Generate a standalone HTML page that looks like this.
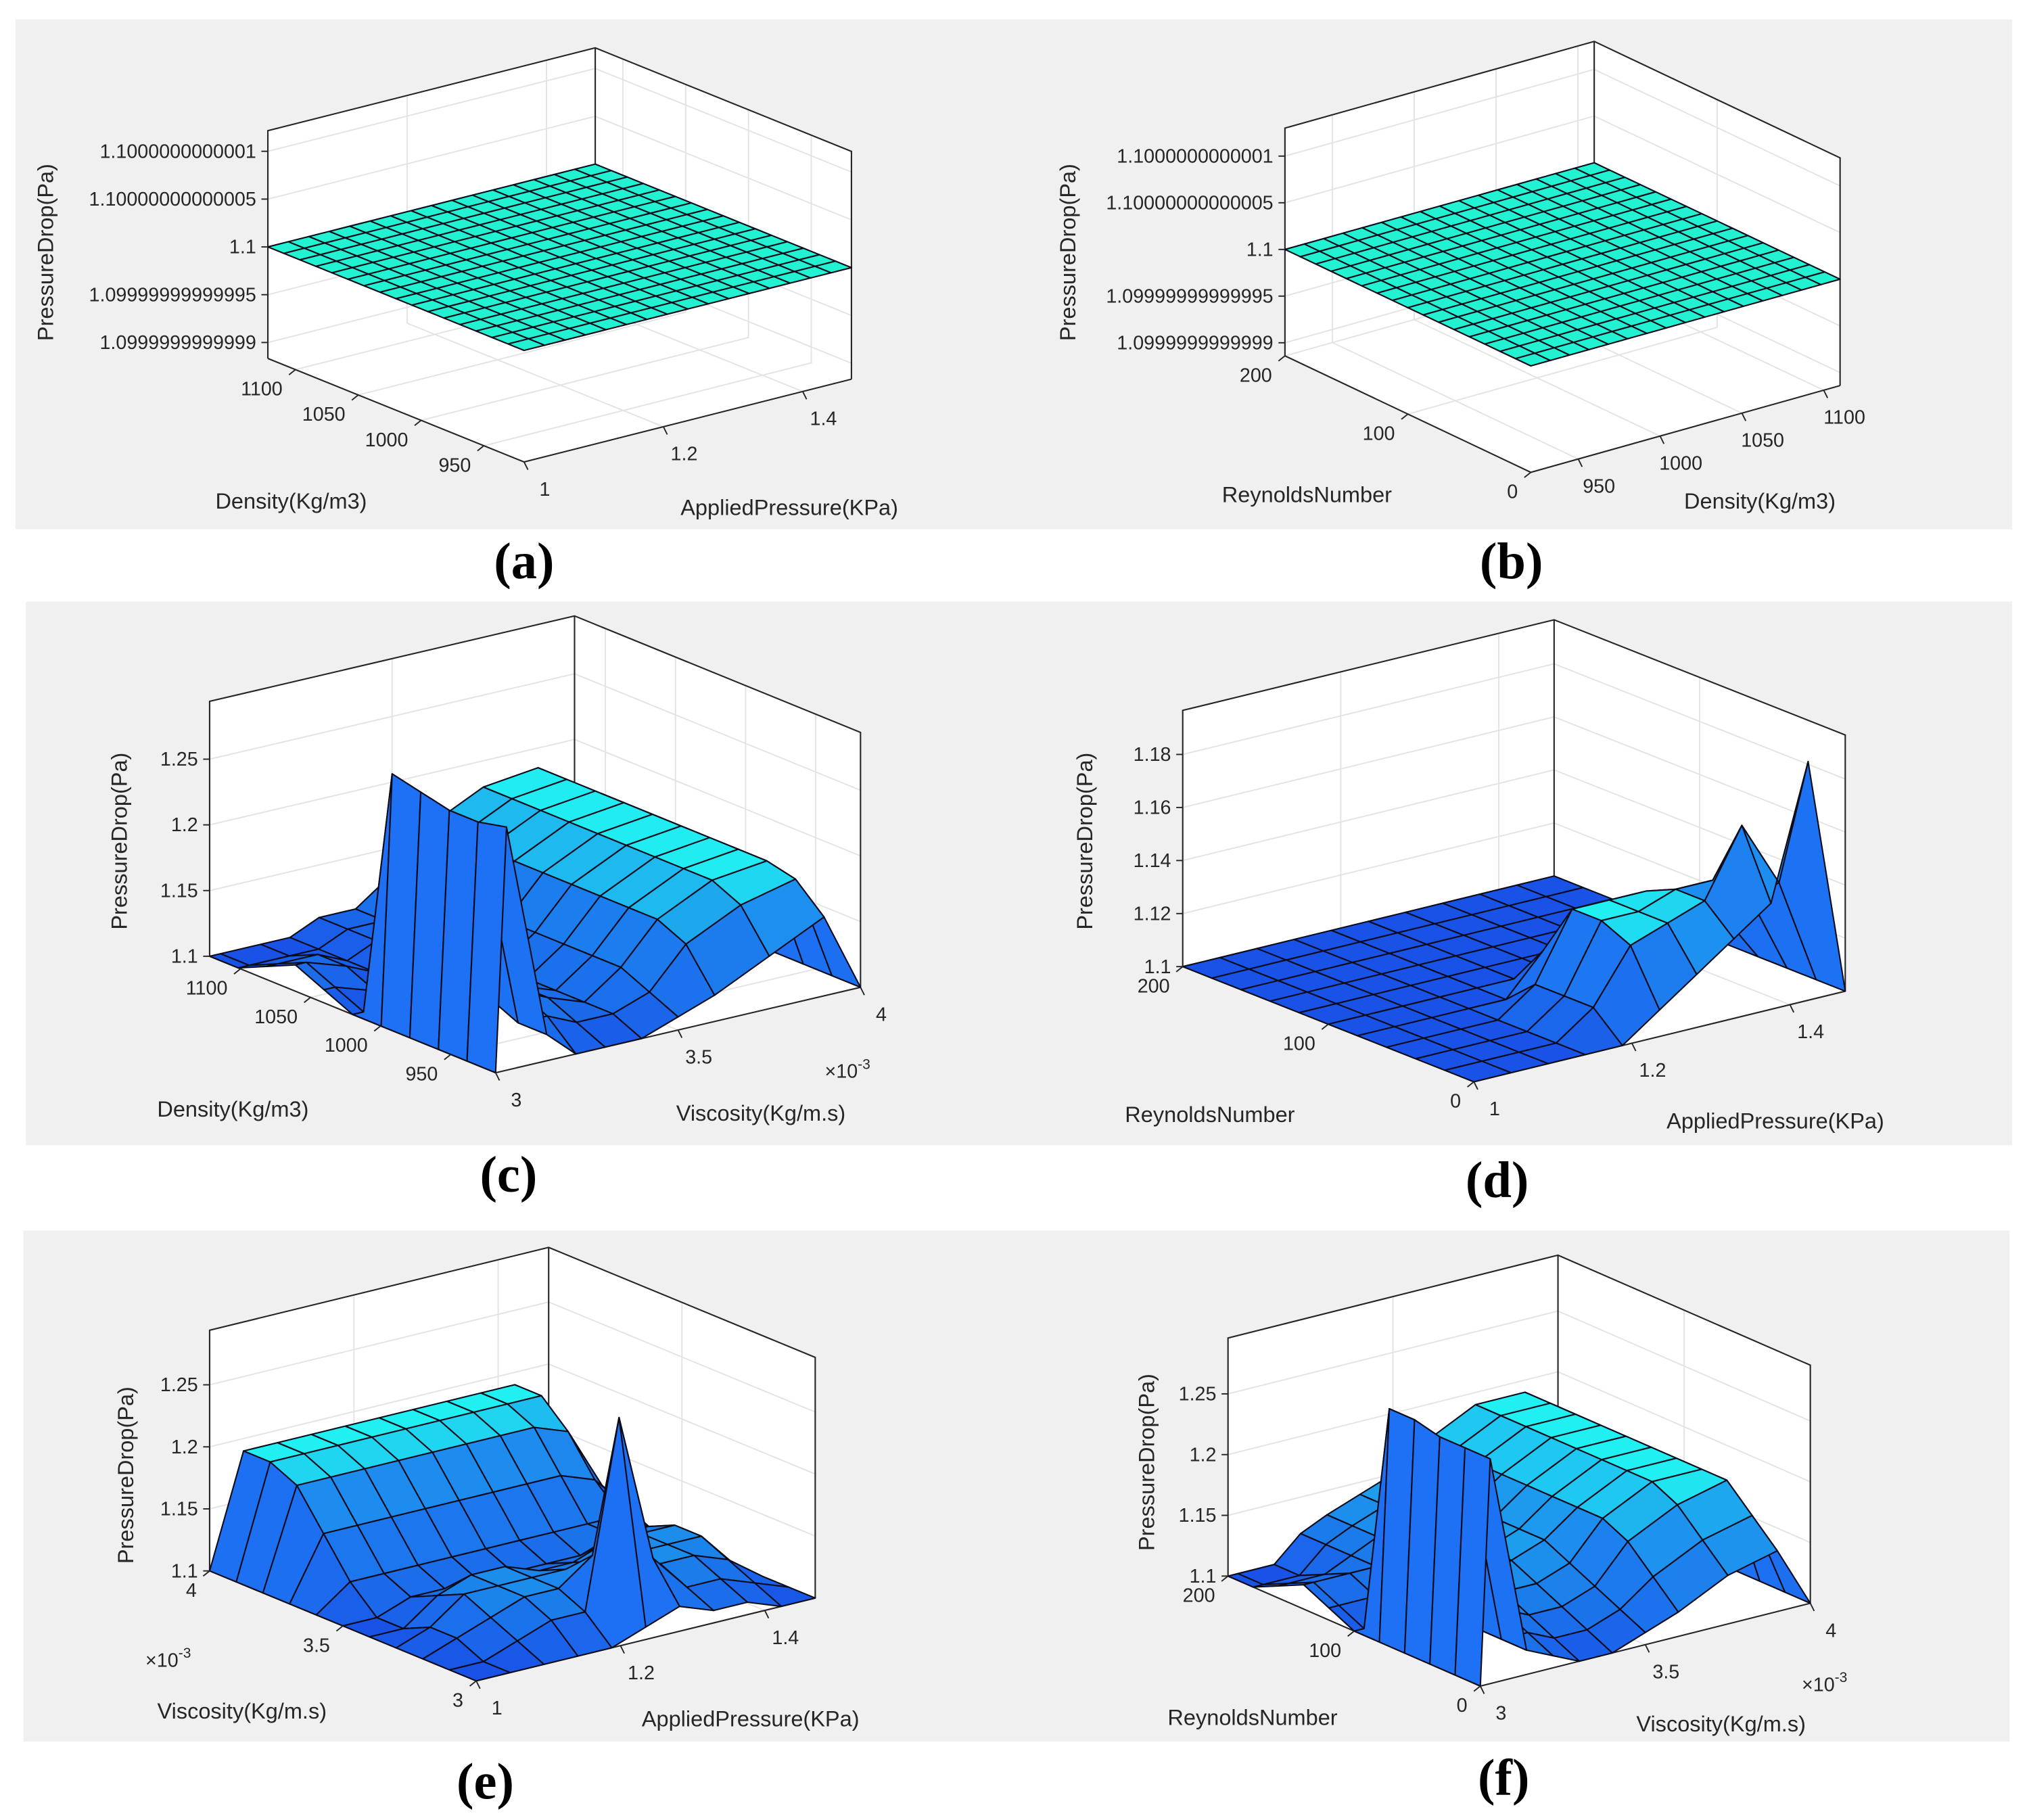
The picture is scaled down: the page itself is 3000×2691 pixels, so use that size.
<!DOCTYPE html>
<html><head><meta charset="utf-8"><title>Pressure drop surfaces</title>
<style>
html,body{margin:0;padding:0;background:#fff;}
svg{display:block;}
text{font-family:"Liberation Sans",Arial,sans-serif;fill:#262626;}
.tick{font-size:15px;}
.ttl{font-size:17px;}
.plab{font-family:"Liberation Serif",serif;font-weight:bold;font-size:40px;fill:#000;}
</style></head>
<body>
<svg id="chart" xmlns="http://www.w3.org/2000/svg" width="3000" height="2691" viewBox="0 0 1568 1406.5" preserveAspectRatio="none">
<rect x="0" y="0" width="1568" height="1406.5" fill="#ffffff"/>
<rect x="12" y="15" width="1543" height="394" fill="#f0f0f0"/>
<rect x="20" y="465" width="1535" height="420" fill="#f0f0f0"/>
<rect x="18" y="951" width="1535" height="395" fill="#f0f0f0"/>
<text class="plab" x="405" y="447" text-anchor="middle">(a)</text>
<text class="plab" x="1168" y="447" text-anchor="middle">(b)</text>
<text class="plab" x="393" y="921" text-anchor="middle">(c)</text>
<text class="plab" x="1157" y="925" text-anchor="middle">(d)</text>
<text class="plab" x="375" y="1390" text-anchor="middle">(e)</text>
<text class="plab" x="1162" y="1387" text-anchor="middle">(f)</text>
</svg>
<script>
// ---------- data (rows: right-axis variable samples, columns: left-axis variable samples) ----------
const flatRow = [1.1,1.1,1.1,1.1,1.1,1.1,1.1,1.1,1.1,1.1,1.1,1.1,1.1,1.1,1.1,1.1,1.1];
const zA = [flatRow,flatRow,flatRow,flatRow,flatRow,flatRow,flatRow,flatRow,flatRow,flatRow,flatRow,flatRow,flatRow,flatRow,flatRow,flatRow,flatRow];
const zB = [flatRow,flatRow,flatRow,flatRow,flatRow,flatRow,flatRow,flatRow,flatRow,flatRow,flatRow,flatRow,flatRow,flatRow,flatRow,flatRow,flatRow];
// viscosity sample values (x1e-3) used by panels c and f
const viscSamples = [3.0, 3.03, 3.14, 3.22, 3.3, 3.4, 3.5, 3.6, 3.75, 3.9, 4.0];
const zC = [
 [1.10,1.10,1.10,1.10,1.10,1.10,1.11,1.12,1.11,1.10,1.10],
 [1.285,1.28,1.28,1.285,1.29,1.10,1.11,1.12,1.11,1.10,1.10],
 [1.12,1.12,1.13,1.12,1.11,1.10,1.10,1.11,1.11,1.10,1.10],
 [1.10,1.12,1.13,1.12,1.11,1.10,1.10,1.10,1.10,1.10,1.10],
 [1.10,1.11,1.12,1.12,1.11,1.11,1.11,1.11,1.11,1.11,1.11],
 [1.10,1.11,1.11,1.11,1.11,1.11,1.11,1.11,1.11,1.11,1.11],
 [1.11,1.12,1.13,1.13,1.13,1.13,1.13,1.13,1.13,1.13,1.13],
 [1.12,1.15,1.16,1.16,1.16,1.16,1.16,1.16,1.16,1.16,1.16],
 [1.14,1.17,1.18,1.18,1.18,1.18,1.18,1.18,1.18,1.18,1.18],
 [1.16,1.18,1.185,1.185,1.185,1.185,1.185,1.185,1.185,1.185,1.185],
 [1.10,1.10,1.10,1.10,1.10,1.10,1.10,1.10,1.10,1.10,1.10]
];
const zD = [
 [1.10,1.10,1.10,1.10,1.10,1.10,1.10,1.10,1.10,1.10,1.10],
 [1.10,1.10,1.10,1.10,1.10,1.10,1.10,1.10,1.10,1.10,1.10],
 [1.10,1.10,1.10,1.10,1.10,1.10,1.10,1.10,1.10,1.10,1.10],
 [1.10,1.10,1.10,1.10,1.10,1.10,1.10,1.10,1.10,1.10,1.10],
 [1.10,1.11,1.11,1.11,1.10,1.10,1.10,1.10,1.10,1.10,1.10],
 [1.11,1.13,1.135,1.135,1.115,1.10,1.10,1.10,1.10,1.10,1.10],
 [1.12,1.135,1.135,1.135,1.12,1.10,1.10,1.10,1.10,1.10,1.10],
 [1.13,1.14,1.14,1.135,1.12,1.10,1.10,1.10,1.10,1.10,1.10],
 [1.14,1.165,1.14,1.13,1.12,1.10,1.10,1.10,1.10,1.10,1.10],
 [1.19,1.14,1.13,1.12,1.11,1.10,1.10,1.10,1.10,1.10,1.10],
 [1.10,1.10,1.10,1.10,1.10,1.10,1.10,1.10,1.10,1.10,1.10]
];
const zE = [
 [1.10,1.10,1.10,1.10,1.10,1.10,1.10,1.10,1.10,1.10,1.10],
 [1.10,1.10,1.11,1.11,1.10,1.10,1.12,1.15,1.18,1.19,1.19],
 [1.10,1.11,1.12,1.13,1.12,1.11,1.12,1.15,1.18,1.19,1.19],
 [1.10,1.12,1.13,1.13,1.13,1.11,1.12,1.15,1.18,1.19,1.19],
 [1.10,1.12,1.13,1.13,1.13,1.11,1.12,1.15,1.18,1.19,1.19],
 [1.11,1.27,1.15,1.13,1.12,1.11,1.12,1.15,1.18,1.19,1.19],
 [1.12,1.15,1.14,1.13,1.12,1.11,1.12,1.15,1.18,1.19,1.19],
 [1.11,1.12,1.13,1.13,1.13,1.11,1.12,1.15,1.18,1.19,1.19],
 [1.11,1.12,1.13,1.13,1.13,1.12,1.12,1.15,1.18,1.19,1.19],
 [1.10,1.11,1.12,1.13,1.13,1.12,1.12,1.14,1.17,1.19,1.19],
 [1.10,1.10,1.10,1.10,1.10,1.10,1.10,1.11,1.12,1.13,1.13]
];
const zF = [
 [1.10,1.10,1.10,1.10,1.10,1.10,1.11,1.12,1.11,1.10,1.10],
 [1.285,1.285,1.285,1.29,1.29,1.10,1.11,1.12,1.11,1.10,1.10],
 [1.12,1.12,1.12,1.12,1.12,1.11,1.11,1.12,1.11,1.10,1.10],
 [1.11,1.12,1.13,1.13,1.12,1.12,1.12,1.12,1.12,1.12,1.12],
 [1.10,1.11,1.12,1.13,1.13,1.13,1.13,1.13,1.13,1.13,1.13],
 [1.10,1.11,1.12,1.13,1.14,1.14,1.14,1.14,1.14,1.14,1.14],
 [1.11,1.12,1.13,1.14,1.15,1.15,1.15,1.15,1.15,1.15,1.15],
 [1.12,1.14,1.16,1.17,1.17,1.17,1.17,1.17,1.17,1.17,1.17],
 [1.14,1.16,1.18,1.19,1.19,1.19,1.19,1.19,1.19,1.19,1.19],
 [1.15,1.17,1.19,1.19,1.19,1.19,1.19,1.19,1.19,1.19,1.19],
 [1.10,1.10,1.10,1.10,1.10,1.10,1.10,1.10,1.10,1.10,1.10]
];
// tick values / labels
const pressureTicks = [1, 1.2, 1.4];
const pressureLabels = ["1", "1.2", "1.4"];
const densityTicks = [950, 1000, 1050, 1100];
const densityLabels = ["950", "1000", "1050", "1100"];
const viscTicks = [3, 3.5, 4];
const viscLabels = ["3", "3.5", "4"];
const reTicks = [0, 100, 200];
const reLabels = ["0", "100", "200"];
const tinyZTicks = [1.1-1e-13, 1.1-5e-14, 1.1, 1.1+5e-14, 1.1+1e-13];
const tinyZLabels = ["1.0999999999999", "1.09999999999995", "1.1", "1.10000000000005", "1.1000000000001"];
const zTicksCEF = [1.1, 1.15, 1.2, 1.25];
const zLabelsCEF = ["1.1", "1.15", "1.2", "1.25"];
const zTicksD = [1.1, 1.12, 1.14, 1.16, 1.18];
const zLabelsD = ["1.1", "1.12", "1.14", "1.16", "1.18"];

const panels = [
 {id:'a', F:[405,357], L:[207,277], R:[658,293], H:176, z:zA, zr:[1.1-1.166e-13, 1.1+1.214e-13], flat:true,
  u:{r:[1,1.47], t:pressureTicks, l:pressureLabels}, v:{r:[918,1122], t:densityTicks, l:densityLabels},
  zt:tinyZTicks, zl:tinyZLabels, ut:['AppliedPressure(KPa)',610,392], vt:['Density(Kg/m3)',225,387], yl:[35,195]},
 {id:'b', F:[1183,365], L:[993,275], R:[1422,298], H:176, z:zB, zr:[1.1-1.14e-13, 1.1+1.30e-13], flat:true,
  u:{r:[921,1110], t:densityTicks, l:densityLabels}, v:{r:[0,200], t:reTicks, l:reLabels},
  zt:tinyZTicks, zl:tinyZLabels, ut:['Density(Kg/m3)',1360,387], vt:['ReynoldsNumber',1010,382], yl:[825,195]},
 {id:'c', F:[383,829], L:[162,739], R:[665,763], H:197, z:zC, zr:[1.1,1.294], sc:0.08, ug:viscSamples,
  u:{r:[3,4], t:viscTicks, l:viscLabels}, v:{r:[918,1122], t:densityTicks, l:densityLabels},
  zt:zTicksCEF, zl:zLabelsCEF, ut:['Viscosity(Kg/m.s)',588,860], vt:['Density(Kg/m3)',180,857], yl:[92,650], ex:[655,828]},
 {id:'d', F:[1139,836], L:[914,747], R:[1426,766], H:198, z:zD, zr:[1.1,1.1966], sc:0.035,
  u:{r:[1,1.47], t:pressureTicks, l:pressureLabels}, v:{r:[0,200], t:reTicks, l:reLabels},
  zt:zTicksD, zl:zLabelsD, ut:['AppliedPressure(KPa)',1372,866], vt:['ReynoldsNumber',935,861], yl:[838,650]},
 {id:'e', F:[368,1299], L:[162,1214], R:[630,1235], H:186, z:zE, zr:[1.1,1.294], sc:0.08,
  u:{r:[1,1.47], t:pressureTicks, l:pressureLabels}, v:{r:[3,4], t:viscTicks, l:viscLabels},
  zt:zTicksCEF, zl:zLabelsCEF, ut:['AppliedPressure(KPa)',580,1328], vt:['Viscosity(Kg/m.s)',187,1322], yl:[97,1140], ex:[130,1283]},
 {id:'f', F:[1144,1303], L:[949,1218], R:[1399,1239], H:184, z:zF, zr:[1.1,1.296], sc:0.08, ug:viscSamples,
  u:{r:[3,4], t:viscTicks, l:viscLabels}, v:{r:[0,200], t:reTicks, l:reLabels},
  zt:zTicksCEF, zl:zLabelsCEF, ut:['Viscosity(Kg/m.s)',1330,1332], vt:['ReynoldsNumber',968,1327], yl:[886,1130], ex:[1410,1302]}
];

const NS = 'http://www.w3.org/2000/svg';
const svg = document.getElementById('chart');
function mk(tag, attrs, parent) {
  const e = document.createElementNS(NS, tag);
  for (const k in attrs) e.setAttribute(k, attrs[k]);
  parent.appendChild(e);
  return e;
}
function pts(a) { return a.map(p => p[0].toFixed(2) + ',' + p[1].toFixed(2)).join(' '); }

panels.forEach(P => {
  const g = mk('g', {}, svg);
  
  
  const F = P.F, L = P.L, R = P.R, H = P.H;
  const proj = (u, v, w) => [F[0] + u*(R[0]-F[0]) + v*(L[0]-F[0]), F[1] + u*(R[1]-F[1]) + v*(L[1]-F[1]) - w*H];
  const uS = x => (x - P.u.r[0]) / (P.u.r[1] - P.u.r[0]);
  const vS = x => (x - P.v.r[0]) / (P.v.r[1] - P.v.r[0]);
  const wS = x => (x - P.zr[0]) / (P.zr[1] - P.zr[0]);

  const floor = mk('polygon', {points: pts([proj(0,0,0), proj(1,0,0), proj(1,1,0), proj(0,1,0)]), fill:'#fff'}, g);
  
  
  const wl = mk('polygon', {points: pts([proj(0,1,0), proj(1,1,0), proj(1,1,1), proj(0,1,1)]), fill:'#fff'}, g);
  
  
  const wr = mk('polygon', {points: pts([proj(1,0,0), proj(1,1,0), proj(1,1,1), proj(1,0,1)]), fill:'#fff'}, g);
  
  

  const gridG = mk('g', {stroke:'#e3e3e3', 'stroke-width':1, fill:'none'}, g);
  
  
  P.u.t.forEach(t => { const u = uS(t);
    mk('polyline', {points: pts([proj(u,0,0), proj(u,1,0), proj(u,1,1)])}, gridG); });
  P.v.t.forEach(t => { const v = vS(t);
    mk('polyline', {points: pts([proj(0,v,0), proj(1,v,0), proj(1,v,1)])}, gridG); });
  P.zt.forEach(t => { const w = wS(t);
    mk('polyline', {points: pts([proj(0,1,w), proj(1,1,w), proj(1,0,w)])}, gridG); });

  const boxG = mk('g', {stroke:'#262626', 'stroke-width':1.1, fill:'none'}, g);
  
  
  mk('polyline', {points: pts([proj(0,1,0), proj(0,1,1), proj(1,1,1), proj(1,0,1), proj(1,0,0)])}, boxG);
  mk('line', {x1:proj(1,1,0)[0], y1:proj(1,1,0)[1], x2:proj(1,1,1)[0], y2:proj(1,1,1)[1]}, boxG);
  mk('polyline', {points: pts([proj(0,1,0), proj(0,0,0), proj(1,0,0)])}, boxG);

  const Z = P.z, nu = Z.length, nv = Z[0].length;
  const uAt = i => P.ug ? uS(P.ug[i]) : i/(nu-1);
  const vAt = j => j/(nv-1);
  const cells = [];
  for (let i = 0; i < nu-1; i++) for (let j = 0; j < nv-1; j++) cells.push([i, j]);
  cells.sort((a, b) => (uAt(b[0])+vAt(b[1])) - (uAt(a[0])+vAt(a[1])));
  const surfG = mk('g', {stroke:'#0b0b1a', 'stroke-width':1.1, 'stroke-linejoin':'round'}, g);
  
  
  cells.forEach(([i, j]) => {
    const u0 = uAt(i), u1 = uAt(i+1), v0 = vAt(j), v1 = vAt(j+1);
    const z00 = Z[i][j], z10 = Z[i+1][j], z11 = Z[i+1][j+1], z01 = Z[i][j+1];
    const q = [proj(u0,v0,wS(z00)), proj(u1,v0,wS(z10)), proj(u1,v1,wS(z11)), proj(u0,v1,wS(z01))];
    let col;
    if (P.flat) col = '#22f2d2';
    else {
      const du = u1-u0, dv = v1-v0;
      const a = [du, dv, wS(z11)-wS(z00)], b = [-du, dv, wS(z01)-wS(z10)];
      const n = [a[1]*b[2]-a[2]*b[1], a[2]*b[0]-a[0]*b[2], a[0]*b[1]-a[1]*b[0]];
      const up = Math.abs(n[2]) / Math.hypot(n[0], n[1], n[2]);
      const zav = (z00+z10+z11+z01)/4;
      const h = Math.min(1, Math.max(0, (zav - 1.1) / P.sc));
      const s = Math.min(1, h * Math.pow(up, 1.6));
      const steep = 1 - up;
      const base = [25 + 5*steep, 82 + 30*steep, 230 + 15*steep];
      const cy = [32, 240, 242];
      col = 'rgb(' + base.map((c, k) => Math.round(c + (cy[k]-c)*s)).join(',') + ')';
    }
    const poly = mk('polygon', {points: pts(q), fill: col}, surfG);
    
    
  });

  const tickG = mk('g', {}, g);
  
  
  P.u.t.forEach((t, k) => {
    const p = proj(uS(t), 0, 0);
    mk('line', {x1:p[0], y1:p[1], x2:p[0]+3, y2:p[1]+6, stroke:'#262626', 'stroke-width':1}, tickG);
    const tx = mk('text', {x:p[0]+16, y:p[1]+26, 'text-anchor':'middle', class:'tick'}, tickG);
    tx.textContent = P.u.l[k];
    
    
  });
  P.v.t.forEach((t, k) => {
    const p = proj(0, vS(t), 0);
    mk('line', {x1:p[0], y1:p[1], x2:p[0]-5, y2:p[1]+4, stroke:'#262626', 'stroke-width':1}, tickG);
    const tx = mk('text', {x:p[0]-10, y:p[1]+20, 'text-anchor':'end', class:'tick'}, tickG);
    tx.textContent = P.v.l[k];
    
    
  });
  P.zt.forEach((t, k) => {
    const p = proj(0, 1, wS(t));
    mk('line', {x1:p[0], y1:p[1], x2:p[0]-5, y2:p[1], stroke:'#262626', 'stroke-width':1}, tickG);
    const tx = mk('text', {x:p[0]-9, y:p[1]+5, 'text-anchor':'end', class:'tick'}, tickG);
    tx.textContent = P.zl[k];
    
    
  });
  if (P.ex) {
    const ex = mk('text', {x:P.ex[0], y:P.ex[1]+5, 'text-anchor':'middle', class:'tick'}, g);
    ex.innerHTML = '×10<tspan dy="-7" font-size="11">-3</tspan>';
    
    
  }
  const ut = mk('text', {x:P.ut[1], y:P.ut[2]+6, 'text-anchor':'middle', class:'ttl'}, g);
  ut.textContent = P.ut[0];
  
  
  const vt = mk('text', {x:P.vt[1], y:P.vt[2]+6, 'text-anchor':'middle', class:'ttl'}, g);
  vt.textContent = P.vt[0];
  
  
  const yl = mk('text', {x:P.yl[0]+6, y:P.yl[1], 'text-anchor':'middle', class:'ttl',
    transform:'rotate(-90 ' + (P.yl[0]+6) + ' ' + P.yl[1] + ')'}, g);
  yl.textContent = 'PressureDrop(Pa)';
  
  
});
</script>
</body></html>
